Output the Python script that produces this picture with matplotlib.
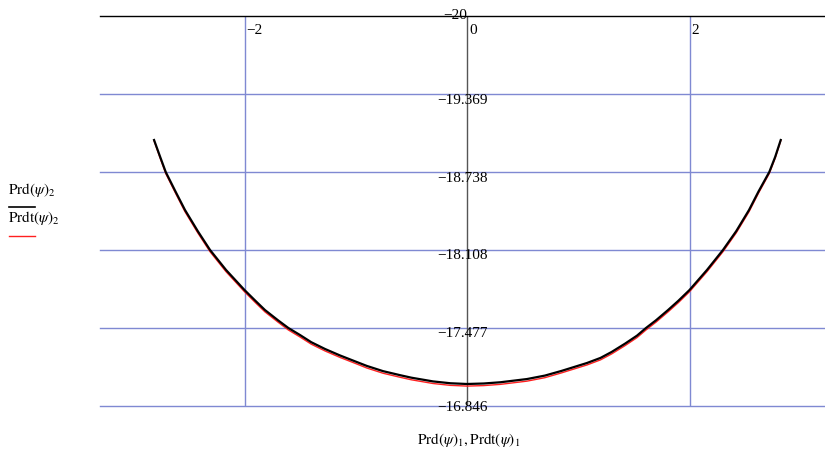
import matplotlib
matplotlib.use("Agg")
import matplotlib.pyplot as plt
from matplotlib.transforms import offset_copy

plt.rcParams['font.family'] = ['Liberation Serif', 'DejaVu Serif']
plt.rcParams['mathtext.fontset'] = 'stix'

# Data
psi_x = [-2.813, -2.760, -2.708, -2.620, -2.535, -2.420, -2.310, -2.166, -2.000, -1.900,
         -1.816, -1.700, -1.606, -1.501, -1.400, -1.276, -1.142, -1.000, -0.900, -0.755,
         -0.600, -0.500, -0.306, -0.150, 0.000, 0.150, 0.300, 0.539, 0.700, 0.850,
         1.079, 1.200, 1.300, 1.420, 1.528, 1.609, 1.700, 1.807, 1.900, 2.000,
         2.157, 2.301, 2.420, 2.535, 2.620, 2.717, 2.770, 2.820]
prd_y = [-18.997, -18.865, -18.738, -18.580, -18.431, -18.260, -18.108, -17.946, -17.784, -17.695,
         -17.622, -17.540, -17.477, -17.420, -17.362, -17.307, -17.255, -17.205, -17.170, -17.128,
         -17.095, -17.075, -17.045, -17.030, -17.024, -17.028, -17.038, -17.064, -17.092, -17.130,
         -17.194, -17.235, -17.283, -17.350, -17.415, -17.477, -17.540, -17.622, -17.697, -17.784,
         -17.946, -18.108, -18.260, -18.431, -18.580, -18.738, -18.860, -18.997]
prdt_y = [-18.991, -18.855, -18.726, -18.567, -18.417, -18.246, -18.094, -17.932, -17.770, -17.680,
          -17.607, -17.525, -17.461, -17.404, -17.346, -17.291, -17.239, -17.189, -17.153, -17.111,
          -17.078, -17.058, -17.028, -17.013, -17.007, -17.011, -17.021, -17.047, -17.075, -17.114,
          -17.178, -17.219, -17.267, -17.334, -17.399, -17.461, -17.525, -17.607, -17.682, -17.770,
          -17.932, -18.094, -18.246, -18.417, -18.567, -18.726, -18.850, -18.991]

x_ticks = [-2, 0, 2]
x_tick_labels = ["\u22122", "0", "2"]
y_ticks = [-20, -19.369, -18.738, -18.108, -17.477, -16.846]
y_tick_labels = ["\u221220", "\u221219.369", "\u221218.738", "\u221218.108", "\u221217.477", "\u221216.846"]

W, H = 825, 450
fig = plt.figure(figsize=(W / 100, H / 100), dpi=100)
ax = fig.add_axes([100 / W, 1 - 406 / H, (825 - 100) / W, (406 - 16) / H])
ax.set_xlim(-3.299, 3.218)
ax.set_ylim(-16.846, -20)
for s in ['left', 'right', 'bottom']:
    ax.spines[s].set_visible(False)
ax.spines['top'].set_color('black')
ax.spines['top'].set_linewidth(1.0)
ax.set_xticks([])
ax.set_yticks([])

grid_c = '#7f89d2'
for yv in y_ticks[1:]:
    ax.axhline(yv, color=grid_c, lw=1.0, zorder=1, clip_on=False)
for xv in x_ticks:
    if xv != 0:
        ax.axvline(xv, color=grid_c, lw=1.0, zorder=1)
ax.axvline(0, color='#555555', lw=1.0, zorder=2)

ax.plot(psi_x, prdt_y, color='#ff2020', lw=1.0, zorder=3)
ax.plot(psi_x, prd_y, color='black', lw=1.6, zorder=4)

fs = 11
for xv, lab in zip(x_ticks, x_tick_labels):
    tr = offset_copy(ax.transData, fig=fig, x=2, y=-8, units='dots')
    ax.text(xv, -20, lab, transform=tr, ha='left', va='top', fontsize=fs, zorder=5)

for i, (yv, lab) in enumerate(zip(y_ticks, y_tick_labels)):
    if i == 0:
        tr = offset_copy(ax.transData, fig=fig, x=0, y=0, units='dots')
        ax.text(0, yv, lab, transform=tr, ha='right', va='center', fontsize=fs, zorder=5)
    else:
        dy = -6 if i < len(y_ticks) - 1 else -2
        tr = offset_copy(ax.transData, fig=fig, x=-5, y=dy, units='dots')
        ax.text(0, yv, lab, transform=tr, ha='center', va='center', fontsize=fs, zorder=5)

# legend at left
fig.text(8 / W, 1 - 190 / H, r"$\mathrm{Prd}(\psi)_2$", fontsize=fs, ha='left', va='center')
fig.add_artist(plt.Line2D([9 / W, 35 / W], [1 - 207 / H, 1 - 207 / H], color='black', lw=1.2))
fig.text(8 / W, 1 - 218 / H, r"$\mathrm{Prdt}(\psi)_2$", fontsize=fs, ha='left', va='center')
fig.add_artist(plt.Line2D([9 / W, 35 / W], [1 - 236 / H, 1 - 236 / H], color='#ff2020', lw=1.0))

# x axis label
fig.text(469 / W, 1 - 440 / H, r"$\mathrm{Prd}(\psi)_1,\mathrm{Prdt}(\psi)_1$", fontsize=fs,
         ha='center', va='center')

fig.savefig("out.png", dpi=100)
